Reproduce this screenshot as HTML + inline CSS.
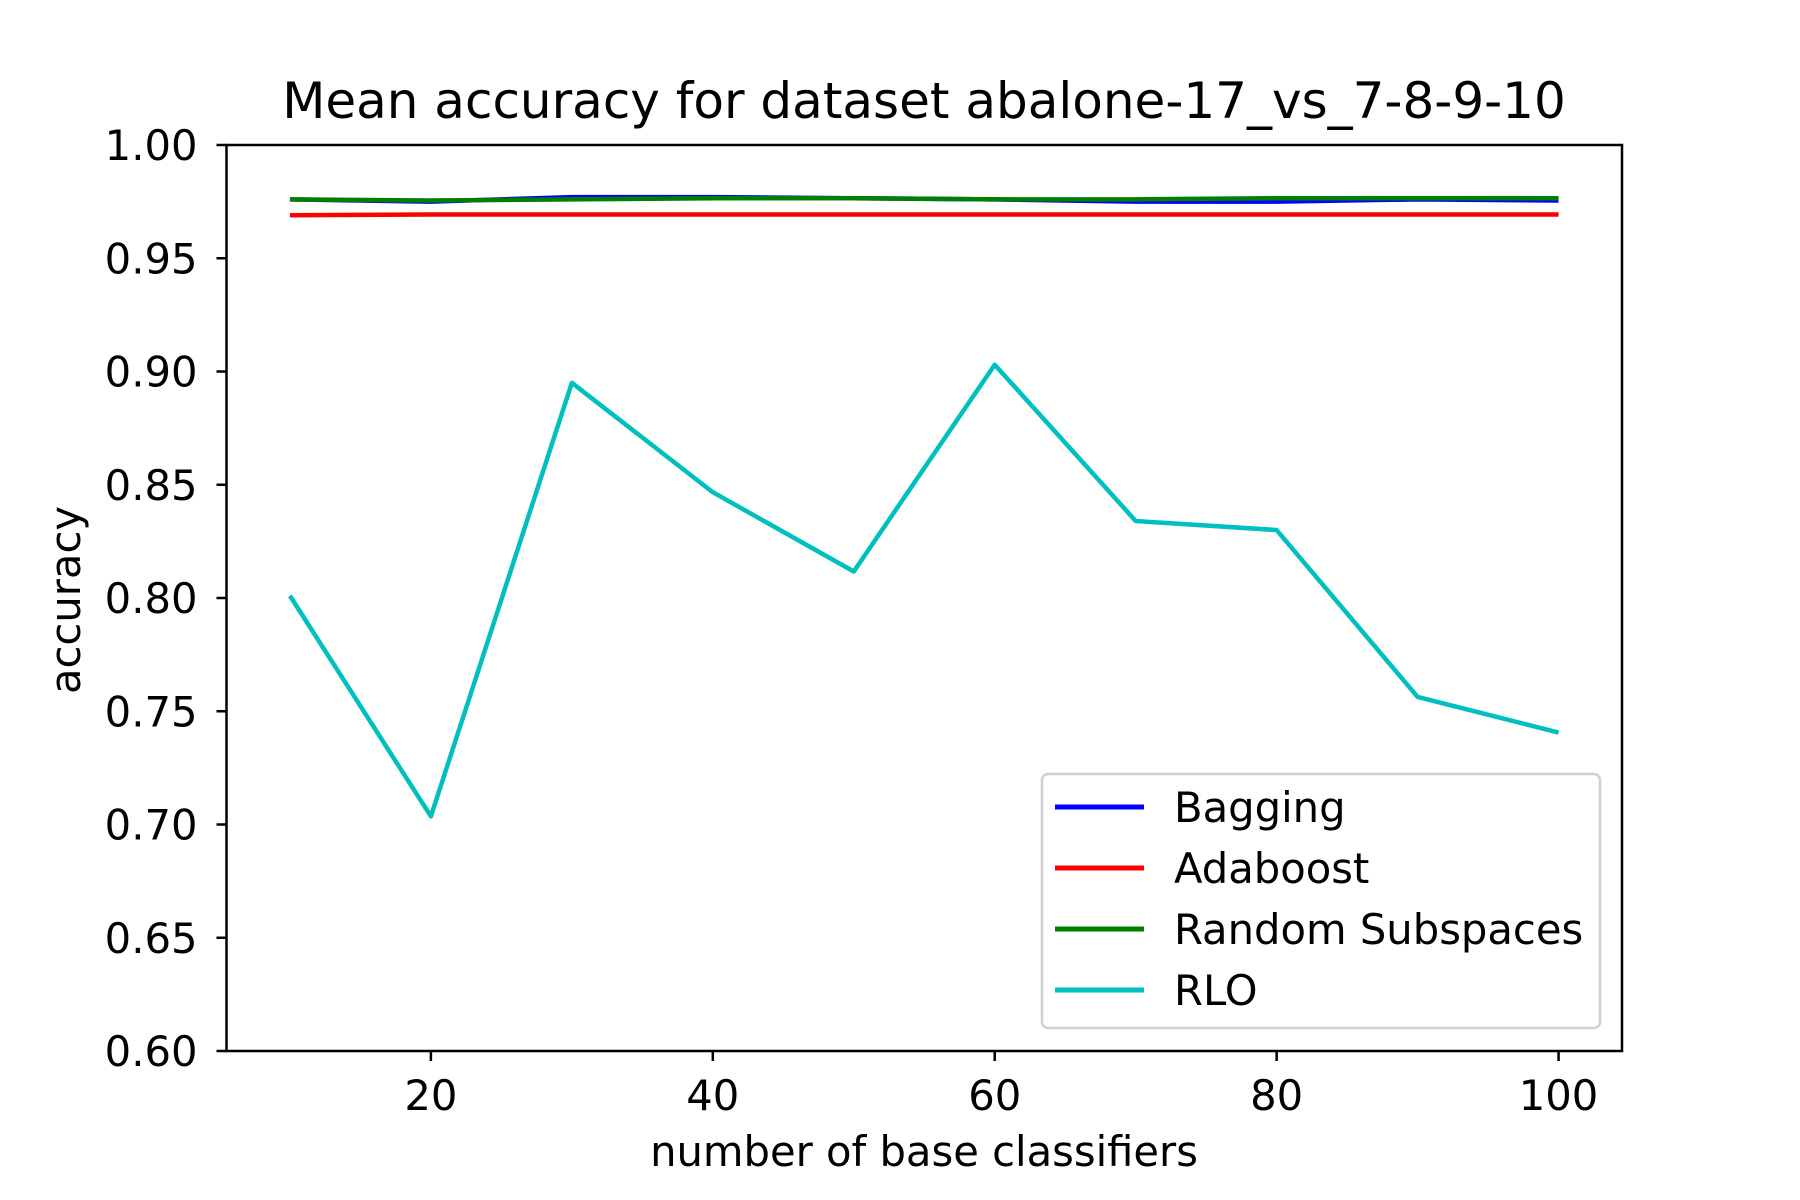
<!DOCTYPE html>
<html><head><meta charset="utf-8"><style>
body{margin:0;background:#fff}
svg{display:block;font-family:"DejaVu Sans","Liberation Sans",sans-serif}
</style></head><body>
<svg id="chart" width="1800" height="1200" viewBox="0 0 1800 1200">
<rect width="1800" height="1200" fill="#fff"/>
<text x="924" y="118" font-size="50" text-anchor="middle">Mean accuracy for dataset abalone-17_vs_7-8-9-10</text>
<g id="plot"></g>
<text x="924" y="1166" font-size="41.7" text-anchor="middle">number of base classifiers</text>
<text transform="translate(80,600) rotate(-90)" font-size="41.7" text-anchor="middle">accuracy</text>
</svg>
<script>
const xValues=[10,20,30,40,50,60,70,80,90,100];
const bagging=[0.976,0.975,0.977,0.977,0.9765,0.976,0.975,0.975,0.976,0.9755];
const adaboost=[0.969,0.9693,0.9693,0.9693,0.9693,0.9693,0.9693,0.9693,0.9693,0.9693];
const randomSubspaces=[0.976,0.9755,0.976,0.9765,0.9765,0.976,0.976,0.9765,0.9765,0.9765];
const rlo=[0.801,0.7036,0.895,0.8467,0.8117,0.903,0.834,0.830,0.7563,0.7406];
const xTicks=[20,40,60,80,100];
const yTicks=[0.60,0.65,0.70,0.75,0.80,0.85,0.90,0.95,1.00];
const seriesNames=["Bagging","Adaboost","Random Subspaces","RLO"];
const L=226.5,R=1622,T=145,B=1051,xMin=5.5,xMax=104.5,yMin=0.6,yMax=1.0;
const sx=v=>L+(v-xMin)/(xMax-xMin)*(R-L);
const sy=v=>B-(v-yMin)/(yMax-yMin)*(B-T);
const NS="http://www.w3.org/2000/svg";
const g=document.getElementById('plot');
function mk(t,a){const e=document.createElementNS(NS,t);for(const k in a)e.setAttribute(k,a[k]);g.appendChild(e);return e;}
const series=[[bagging,"#0000ff","bagging"],[adaboost,"#ff0000","adaboost"],[randomSubspaces,"#008000","random-subspaces"],[rlo,"#00bfbf","rlo"]];
series.forEach(s=>{
  const p=mk('polyline',{points:xValues.map((x,i)=>sx(x)+','+sy(s[0][i])).join(' '),fill:'none',stroke:s[1],'stroke-width':4.5,'stroke-linejoin':'round'});
  
  
});
const fr=mk('rect',{x:L,y:T,width:R-L,height:B-T,fill:'none',stroke:'#000','stroke-width':2.5});


xTicks.forEach(t=>{
  const l=mk('line',{x1:sx(t),x2:sx(t),y1:B,y2:B+10,stroke:'#000','stroke-width':2.5});
  
  
  const tx=mk('text',{x:sx(t),y:1110,'font-size':41.7,'text-anchor':'middle'});tx.textContent=t;
  
  
});
yTicks.forEach(t=>{
  const l=mk('line',{x1:L-10,x2:L,y1:sy(t),y2:sy(t),stroke:'#000','stroke-width':2.5});
  
  
  const tx=mk('text',{x:L-29,y:sy(t)+15,'font-size':41.7,'text-anchor':'end'});tx.textContent=t.toFixed(2);
  
  
});
const lb=mk('rect',{x:1042,y:774,width:558,height:254,rx:6,fill:'#fff','fill-opacity':0.8,stroke:'#d0d0d0','stroke-width':2.5});


series.forEach((s,i)=>{
  const y=807+i*61;
  const l=mk('line',{x1:1055,x2:1144,y1:y,y2:y,stroke:s[1],'stroke-width':5});
  
  
  const tx=mk('text',{x:1174,y:y+15,'font-size':41.7});tx.textContent=seriesNames[i];
  
  
});
</script>
</body></html>
